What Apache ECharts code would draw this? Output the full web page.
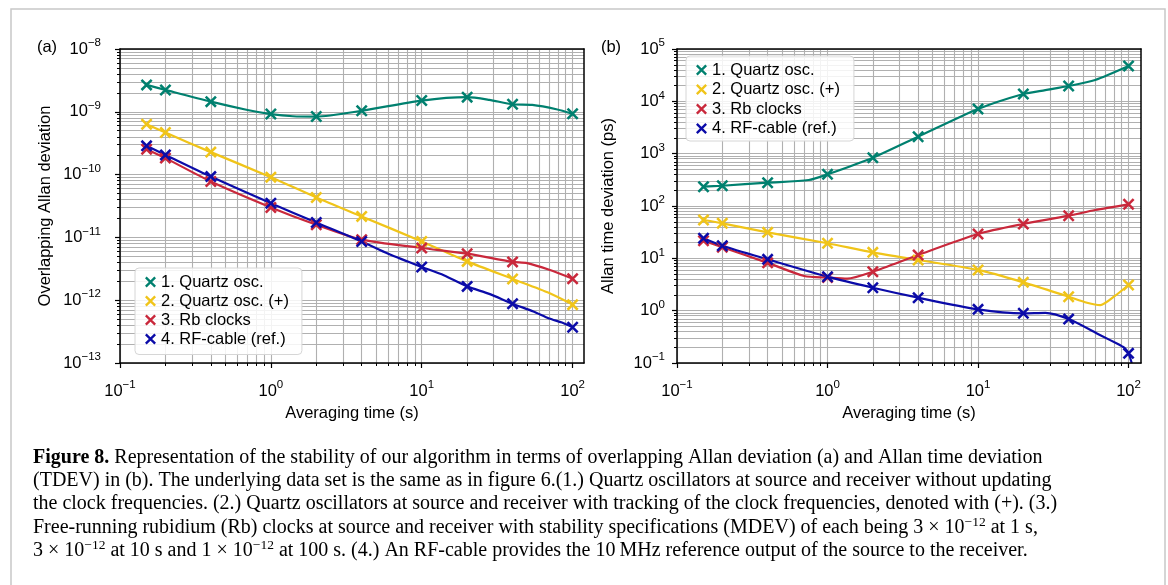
<!DOCTYPE html>
<html><head><meta charset="utf-8">
<script src="https://cdn.jsdelivr.net/npm/echarts@6/dist/echarts.min.js"></script>
<style>html,body{margin:0;padding:0;background:#fff}#c{width:1168px;height:585px}</style>
</head><body><div id="c"></div>
<script>
// ---------- data ----------
const NAMES = ['1. Quartz osc.', '2. Quartz osc. (+)', '3. Rb clocks', '4. RF-cable (ref.)'];
const COLORS = ['#00806f', '#f0c419', '#c9283b', '#0b0ba8'];
const TAU_MARK = [0.15, 0.2, 0.4, 1, 2, 4, 10, 20, 40, 100];

// (a) overlapping Allan deviation, values at marker positions
const ADEV_Q_MARK  = [2.68e-9, 2.23e-9, 1.45e-9, 9.2e-10, 8.4e-10, 1.04e-9, 1.51e-9, 1.71e-9, 1.32e-9, 9.3e-10];
const ADEV_QP_MARK = [6.35e-10, 4.67e-10, 2.28e-10, 9.1e-11, 4.33e-11, 2.16e-11, 8.63e-12, 4.15e-12, 2.18e-12, 8.5e-13];
const ADEV_RB_MARK = [2.54e-10, 1.83e-10, 7.76e-11, 3.0e-11, 1.59e-11, 9.2e-12, 6.78e-12, 5.5e-12, 4.07e-12, 2.2e-12];
const ADEV_RF_MARK = [2.87e-10, 2.06e-10, 9.3e-11, 3.5e-11, 1.73e-11, 8.6e-12, 3.38e-12, 1.66e-12, 8.8e-13, 3.7e-13];

// (a) curves
const ADEV_Q_LINE = [[0.15,2.68e-9],[0.2,2.23e-9],[0.4,1.45e-9],[0.7,1.07e-9],[1,9.2e-10],[1.4,8.5e-10],[2,8.4e-10],[4,1.04e-9],[10,1.51e-9],[20,1.71e-9],[28,1.55e-9],[40,1.32e-9],[54,1.29e-9],[78,1.1e-9],[100,9.3e-10]];
const ADEV_QP_LINE = [[0.15,6.35e-10],[0.2,4.67e-10],[0.4,2.28e-10],[1,9.1e-11],[2,4.33e-11],[4,2.16e-11],[10,8.63e-12],[20,4.15e-12],[40,2.18e-12],[70,1.3e-12],[100,8.5e-13]];
const ADEV_RB_LINE = [[0.15,2.54e-10],[0.2,1.83e-10],[0.4,7.76e-11],[1,3.0e-11],[2,1.59e-11],[4,9.2e-12],[10,6.78e-12],[20,5.5e-12],[40,4.07e-12],[50,3.9e-12],[70,3.05e-12],[100,2.2e-12]];
const ADEV_RF_LINE = [[0.15,2.87e-10],[0.2,2.06e-10],[0.4,9.3e-11],[1,3.5e-11],[2,1.73e-11],[4,8.6e-12],[6,5.5e-12],[10,3.38e-12],[14,2.5e-12],[20,1.66e-12],[28,1.26e-12],[40,8.8e-13],[55,6.6e-13],[70,5.1e-13],[85,4.4e-13],[100,3.7e-13]];

// (b) Allan time deviation (ps), values at marker positions
const TDEV_Q_MARK  = [234, 244, 279, 403, 838, 2110, 7130, 13800, 19600, 47300];
const TDEV_QP_MARK = [54, 46.7, 31.4, 19.4, 13.0, 9.3, 6.0, 3.48, 1.85, 3.09];
const TDEV_RB_MARK = [21.7, 16.3, 8.2, 4.3, 5.55, 11.6, 29.2, 45.3, 65.3, 107.7];
const TDEV_RF_MARK = [24.2, 17.4, 9.57, 4.46, 2.74, 1.77, 1.06, 0.89, 0.69, 0.153];

// (b) curves
const TDEV_Q_LINE = [[0.15,234],[0.2,244],[0.4,279],[0.75,314],[1,403],[2,838],[4,2110],[10,7130],[20,13800],[28,16400],[40,19600],[60,25600],[100,47300]];
const TDEV_QP_LINE = [[0.15,54],[0.2,46.7],[0.4,31.4],[1,19.4],[2,13.0],[4,9.3],[10,6.0],[20,3.48],[40,1.85],[53,1.42],[65,1.28],[80,1.85],[100,3.09]];
const TDEV_RB_LINE = [[0.15,21.7],[0.2,16.3],[0.4,8.2],[0.7,4.6],[1,4.3],[1.35,4.1],[2,5.55],[4,11.6],[10,29.2],[20,45.3],[40,65.3],[60,83.7],[100,107.7]];
const TDEV_RF_LINE = [[0.15,24.2],[0.2,17.4],[0.4,9.57],[1,4.46],[2,2.74],[4,1.77],[10,1.06],[20,0.89],[28,0.91],[40,0.69],[65,0.34],[85,0.23],[90,0.21],[95,0.19],[100,0.153],[105,0.1]];

// ticks
const X_MAJOR = [0.1, 1, 10, 100];
const YA_MAJOR = [1e-13, 1e-12, 1e-11, 1e-10, 1e-9, 1e-8];
const YB_MAJOR = [0.1, 1, 10, 100, 1000, 10000, 100000];
const MINOR_MULT = [1, 2, 3, 4, 5, 6, 7, 8, 9];

// ---------- build ----------
const X_PATH = 'path://M0,15L15,0L100,85L85,100ZM85,0L100,15L15,100L0,85Z';
function allTicks(majors) {
  const out = [];
  majors.forEach(m => MINOR_MULT.forEach(k => out.push(k * m)));
  return out;
}
function fmtPow(v) {
  const e = Math.round(Math.log10(v));
  return '{b|10}{s|' + (e < 0 ? '\u2212' + (-e) : String(e)) + '}';
}
const FONT = 'Liberation Sans';
const labRich = {
  b: { fontSize: 16.5, lineHeight: 24, fontFamily: FONT, color: '#000' },
  s: { fontSize: 11.5, lineHeight: 12, verticalAlign: 'top', fontFamily: FONT, color: '#000' }
};
const GRIDS = [
  { left: 120, top: 49, width: 464, height: 314, xmax: 119, ymin: 1e-13, ymax: 1e-8, ymaj: YA_MAJOR, ylm: 19 },
  { left: 677, top: 49, width: 464, height: 314, xmax: 121, ymin: 0.1, ymax: 1e5, ymaj: YB_MAJOR, ylm: 12 }
];
const xAxis = [], yAxis = [];
GRIDS.forEach((g, gi) => {
  const xb = { type: 'log', logBase: 10, gridIndex: gi, min: 0.1, max: g.xmax };
  xAxis.push(Object.assign({}, xb, {
    position: 'bottom', z: 0,
    axisLine: { show: false },
    axisTick: { show: true, length: 3, customValues: allTicks(X_MAJOR), lineStyle: { color: '#000', width: 1 } },
    axisLabel: { show: false },
    splitLine: { show: true, lineStyle: { color: '#b0b0b0', width: 1.1 } }
  }));
  xAxis.push(Object.assign({}, xb, {
    position: 'bottom', z: 4,
    axisLine: { show: true, lineStyle: { color: '#000', width: 1.5 } },
    axisTick: { show: true, length: 5, customValues: X_MAJOR, lineStyle: { color: '#000', width: 1.2 } },
    axisLabel: { show: true, customValues: X_MAJOR, formatter: fmtPow, rich: labRich, margin: 16 },
    splitLine: { show: false }
  }));
  xAxis.push(Object.assign({}, xb, {
    position: 'top', z: 4,
    axisLine: { show: true, lineStyle: { color: '#000', width: 1.5 } },
    axisTick: { show: false }, axisLabel: { show: false }, splitLine: { show: false }
  }));
  const yb = { type: 'log', logBase: 10, gridIndex: gi, min: g.ymin, max: g.ymax };
  yAxis.push(Object.assign({}, yb, {
    position: 'left', z: 0,
    axisLine: { show: false },
    axisTick: { show: true, length: 3, customValues: allTicks(g.ymaj), lineStyle: { color: '#000', width: 1 } },
    axisLabel: { show: false },
    splitLine: { show: true, lineStyle: { color: '#b0b0b0', width: 1.1 } }
  }));
  yAxis.push(Object.assign({}, yb, {
    position: 'left', z: 4,
    axisLine: { show: true, lineStyle: { color: '#000', width: 1.5 } },
    axisTick: { show: true, length: 5, customValues: g.ymaj, lineStyle: { color: '#000', width: 1.2 } },
    axisLabel: { show: true, customValues: g.ymaj, formatter: fmtPow, rich: labRich, margin: g.ylm, align: 'right' },
    splitLine: { show: false }
  }));
  yAxis.push(Object.assign({}, yb, {
    position: 'right', z: 4,
    axisLine: { show: true, lineStyle: { color: '#000', width: 1.5 } },
    axisTick: { show: false }, axisLabel: { show: false }, splitLine: { show: false }
  }));
});

const PANELS = [
  { lines: [ADEV_Q_LINE, ADEV_QP_LINE, ADEV_RB_LINE, ADEV_RF_LINE], marks: [ADEV_Q_MARK, ADEV_QP_MARK, ADEV_RB_MARK, ADEV_RF_MARK] },
  { lines: [TDEV_Q_LINE, TDEV_QP_LINE, TDEV_RB_LINE, TDEV_RF_LINE], marks: [TDEV_Q_MARK, TDEV_QP_MARK, TDEV_RB_MARK, TDEV_RF_MARK] }
];
const series = [];
PANELS.forEach((p, pi) => {
  p.lines.forEach((ln, si) => {
    series.push({
      type: 'line', name: 'curve-' + pi + '-' + si, xAxisIndex: pi * 3 + 1, yAxisIndex: pi * 3 + 1,
      data: ln, showSymbol: false, symbol: 'none', smooth: 0.25, silent: true, z: 3,
      lineStyle: { color: COLORS[si], width: 2.2 }
    });
  });
  p.marks.forEach((mk, si) => {
    series.push({
      type: 'scatter', name: NAMES[si], xAxisIndex: pi * 3 + 1, yAxisIndex: pi * 3 + 1,
      data: TAU_MARK.map((t, i) => [t, mk[i]]), symbol: X_PATH, symbolSize: 12, z: 4,
      itemStyle: { color: COLORS[si], opacity: 1 }
    });
  });
});

const legendCommon = {
  data: NAMES, orient: 'vertical', itemWidth: 11, itemHeight: 11, selectedMode: false,
  backgroundColor: 'rgba(255,255,255,0.85)', borderColor: '#d6d6d6', borderWidth: 1, borderRadius: 4,
  textStyle: { fontSize: 16.5, fontFamily: FONT, color: '#000', lineHeight: 16.5 },
  icon: X_PATH
};
const legend = [
  Object.assign({}, legendCommon, { left: 135, top: 268, itemGap: 2, padding: [5.5, 13, 7, 10] }),
  Object.assign({}, legendCommon, { left: 686, top: 56, itemGap: 2.5, padding: [5.5, 14, 4, 10] })
];

const SERIF = 'Liberation Serif';
const capRich = {
  b: { fontWeight: 'bold', fontSize: 20, fontFamily: SERIF, color: '#000', lineHeight: 24 },
  l: { fontSize: 20, fontFamily: SERIF, color: '#2a8fd0', lineHeight: 24 },
  s: { fontSize: 13.5, fontFamily: SERIF, color: '#000', lineHeight: 14, verticalAlign: 'top' },
  n: { fontSize: 20, fontFamily: SERIF, color: '#000', lineHeight: 24 }
};
const CAPTION = [
  '{b|Figure 8.}{n| Representation of the stability of our algorithm in terms of overlapping Allan deviation (a) and Allan time deviation}',
  '{n|(TDEV) in (b). The underlying data set is the same as in figure }{l|6}{n|.(1.) Quartz oscillators at source and receiver without updating}',
  '{n|the clock frequencies. (2.) Quartz oscillators at source and receiver with tracking of the clock frequencies, denoted with (+). (3.)}',
  '{n|Free-running rubidium (Rb) clocks at source and receiver with stability specifications (MDEV) of each being 3 \u00d7 10}{s|\u221212}{n| at 1 s,}',
  '{n|3 \u00d7 10}{s|\u221212}{n| at 10 s and 1 \u00d7 10}{s|\u221212}{n| at 100 s. (4.) An RF-cable provides the 10\u2009MHz reference output of the source to the receiver.}'
];
const CAP_Y = [458, 481.1, 504.2, 527.3, 550.4];

const graphic = [
  { type: 'rect', shape: { x: 11, y: 9, width: 1154, height: 620 }, style: { fill: 'none', stroke: '#c8c8c8', lineWidth: 1.5 }, silent: true },
  { type: 'text', x: 47, y: 47, style: { text: '(a)', font: '16.5px ' + FONT, fill: '#000', align: 'center', verticalAlign: 'middle' } },
  { type: 'text', x: 611, y: 47, style: { text: '(b)', font: '16.5px ' + FONT, fill: '#000', align: 'center', verticalAlign: 'middle' } },
  { type: 'text', x: 352, y: 413, style: { text: 'Averaging time (s)', font: '16.5px ' + FONT, fill: '#000', align: 'center', verticalAlign: 'middle' } },
  { type: 'text', x: 909, y: 413, style: { text: 'Averaging time (s)', font: '16.5px ' + FONT, fill: '#000', align: 'center', verticalAlign: 'middle' } },
  { type: 'text', x: 45, y: 206, rotation: Math.PI / 2, style: { text: 'Overlapping Allan deviation', font: '16.5px ' + FONT, fill: '#000', align: 'center', verticalAlign: 'middle' } },
  { type: 'text', x: 608, y: 206, rotation: Math.PI / 2, style: { text: 'Allan time deviation (ps)', font: '16.5px ' + FONT, fill: '#000', align: 'center', verticalAlign: 'middle' } }
];
CAPTION.forEach((t, i) => {
  graphic.push({ type: 'text', x: 33, y: CAP_Y[i], style: { text: t, rich: capRich, font: '20px ' + SERIF, fill: '#000', align: 'left', verticalAlign: 'middle' } });
});

const chart = echarts.init(document.getElementById('c'), null, { renderer: 'canvas' });
chart.setOption({
  backgroundColor: '#fff',
  animation: false,
  grid: GRIDS.map(g => ({ left: g.left, top: g.top, width: g.width, height: g.height, containLabel: false })),
  xAxis, yAxis, series, legend, graphic
});
</script></body></html>
